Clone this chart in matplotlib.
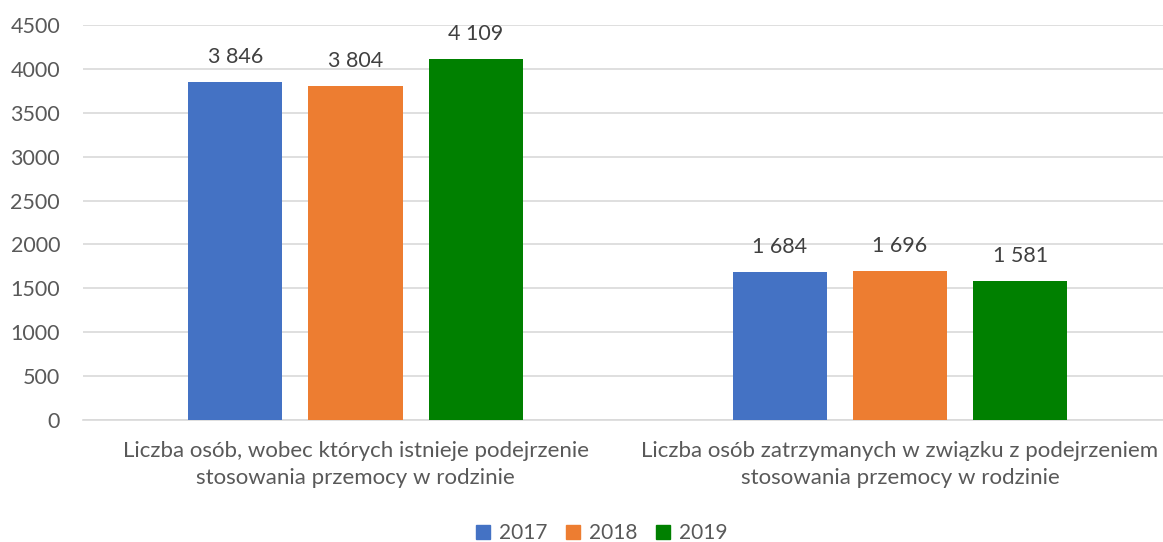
import numpy as np
import matplotlib.pyplot as plt
from matplotlib.patches import Patch

plt.rcParams["font.family"] = ["Lato", "DejaVu Sans"]
plt.rcParams["font.size"] = 16

categories = ["Liczba osób, wobec których istnieje podejrzenie\nstosowania przemocy w rodzinie",
              "Liczba osób zatrzymanych w związku z podejrzeniem\nstosowania przemocy w rodzinie"]
years = ["2017", "2018", "2019"]
values = {
    "2017": [3846, 1684],
    "2018": [3804, 1696],
    "2019": [4109, 1581],
}
colors = ["#4472C4", "#ED7D31", "#008000"]
text_color = "#595959"

fig = plt.figure(figsize=(11.63, 5.42), dpi=100)
ax = fig.add_axes([83 / 1163, 122 / 542, 1080 / 1163, 395 / 542])

x = np.arange(len(categories))
width = 0.173
step = 0.221
for i, (yr, c) in enumerate(zip(years, colors)):
    bars = ax.bar(x + (i - 1) * step, values[yr], width, color=c, zorder=3)
    for b, v in zip(bars, values[yr]):
        ax.annotate(f"{v:,}".replace(",", " "), (b.get_x() + b.get_width() / 2, v),
                    xytext=(0, 11), textcoords="offset points",
                    ha="center", va="bottom", color="#404040", fontsize=15.5)

ax.set_xlim(-0.5005, 1.483)
ax.set_ylim(0, 4500)
ax.set_yticks(np.arange(0, 4501, 500))
ax.yaxis.grid(True, color="#D9D9D9", linewidth=1.2, zorder=0)
for s in ["top", "right", "left"]:
    ax.spines[s].set_visible(False)
ax.spines["bottom"].set_color("#D9D9D9")
ax.spines["bottom"].set_linewidth(1.2)
ax.tick_params(axis="both", length=0, colors=text_color, labelsize=15.5)
ax.tick_params(axis="y", pad=16.5)
ax.set_xticks(x)
ax.set_xticklabels(categories, linespacing=1.45, fontsize=16)
ax.tick_params(axis="x", pad=15)

handles = [Patch(color=c, label=yr) for yr, c in zip(years, colors)]
fig.legend(handles=handles, loc="center", bbox_to_anchor=(602 / 1163, 1 - 533 / 542),
           ncol=3, frameon=False, handlelength=0.65, handleheight=0.65,
           columnspacing=0.9, handletextpad=0.45, labelcolor=text_color, fontsize=15)

fig.savefig("out.png", dpi=100)
